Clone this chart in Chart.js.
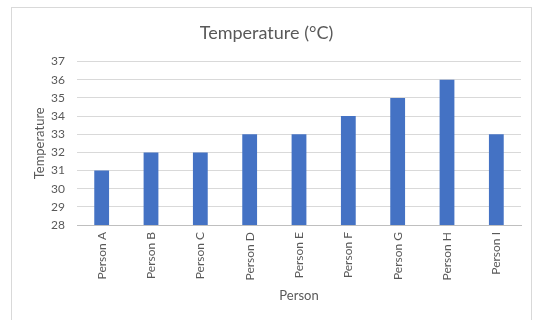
<!DOCTYPE html>
<html>
<head>
<meta charset="utf-8">
<script src="https://cdn.jsdelivr.net/npm/chart.js@4/dist/chart.umd.min.js"></script>
<style>
  html, body { margin: 0; padding: 0; background: #ffffff; }
  #wrap { position: relative; width: 535px; height: 320px; }
  #frame { position: absolute; left: 11px; top: 7px; width: 521px; height: 318px; border: 1px solid #d9d9d9; box-sizing: border-box; pointer-events: none; }
  canvas { position: absolute; left: 0; top: 0; }
</style>
</head>
<body>
<div id="wrap">
  <canvas id="c" width="535" height="320"></canvas>
  <div id="frame"></div>
</div>
<script>
const categories = ["Person A", "Person B", "Person C", "Person D", "Person E", "Person F", "Person G", "Person H", "Person I"];
const temperatures = [31, 32, 32, 33, 33, 34, 35, 36, 33];
const yTicks = [28, 29, 30, 31, 32, 33, 34, 35, 36, 37];

const FONT = "Lato, 'Open Sans', sans-serif";
const GREY = "#595959";

new Chart(document.getElementById("c"), {
  type: "bar",
  data: {
    labels: categories,
    datasets: [{
      label: "Temperature",
      data: temperatures,
      backgroundColor: "#4472c4",
      borderWidth: 0,
      categoryPercentage: 1,
      barPercentage: 0.3
    }]
  },
  options: {
    responsive: false,
    animation: false,
    devicePixelRatio: 1,
    layout: { padding: { left: 12, right: 14, top: 14, bottom: 10 } },
    plugins: {
      legend: { display: false },
      tooltip: { enabled: false },
      title: {
        display: true,
        text: "Temperature (°C)",
        color: GREY,
        font: { family: FONT, size: 18, weight: "normal" },
        padding: { top: 8, bottom: 18 }
      }
    },
    scales: {
      x: {
        grid: { display: false, drawTicks: false },
        border: { display: true, color: "#bfbfbf", width: 1 },
        ticks: {
          color: GREY,
          font: { family: FONT, size: 12 },
          minRotation: 90,
          maxRotation: 90,
          padding: 7,
          autoSkip: false
        },
        title: {
          display: true,
          text: "Person",
          color: GREY,
          font: { family: FONT, size: 13 },
          padding: { top: 0, bottom: 6 }
        },
        afterFit(scale) { scale.height = 85; }
      },
      y: {
        min: yTicks[0],
        max: yTicks[yTicks.length - 1],
        afterBuildTicks(scale) { scale.ticks = yTicks.map(v => ({ value: v })); },
        grid: { color: "#d9d9d9", drawTicks: false },
        border: { display: false },
        ticks: {
          color: GREY,
          font: { family: FONT, size: 12 },
          padding: 12
        },
        title: {
          display: true,
          text: "Temperature",
          color: GREY,
          font: { family: FONT, size: 13 },
          padding: { top: 20, bottom: 0 }
        },
        afterFit(scale) { scale.width = 65; }
      }
    }
  }
});
</script>
</body>
</html>
